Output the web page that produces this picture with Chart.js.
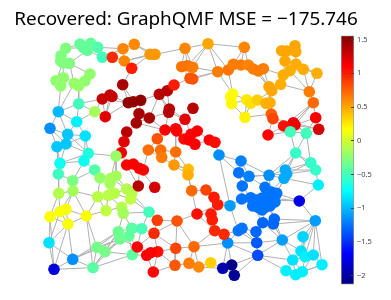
<!DOCTYPE html>
<html>
<head>
<meta charset="utf-8">
<script src="https://cdn.jsdelivr.net/npm/chart.js@4"></script>
<style>
  html, body { margin: 0; background: #fff; overflow: hidden; }
  canvas { position: absolute; filter: blur(0.4px); }
  #graph { left: 0; top: 0; }
  #colorbar { left: 335px; top: 25px; }
</style>
</head>
<body>
<canvas id="graph" width="372" height="300"></canvas>
<canvas id="colorbar" width="56" height="270"></canvas>
<script>
const titleText = "Recovered: GraphQMF MSE = \u2212175.746";

// graph vertices
const nodeX = [65.7,80,90.7,97.7,83.3,87.3,102.3,61,60.7,69.3,63,56,63.3,60.7,90,85,74.3,78.7,78.7,58.3,94.7,76.7,50,67.7,85.3,66,57,88.3,
  112.3,123,134.3,124.3,150,155,131.7,122.7,102.3,110,112,105.3,128.3,133.3,140.7,139,149.3,136.3,126.7,124,121.3,159.3,167.3,174,169.3,168.7,185,165,175.7,176.7,184,157.3,148.3,160.7,175.7,185,181.7,187.3,192.7,190,192.7,193,
  208,244.3,217.7,228.3,233.3,241,248.3,253.3,258.3,263.3,281.7,286.7,295,295.7,285,296,303.3,290,283.3,317,280.7,269,271.7,309.3,313.3,232.7,230.7,231.7,246.7,250.7,257.3,266,270,245,271.3,273,315.7,318.7,293.3,295,283.7,268,290.3,306.3,295.7,197.3,191,189,195,209.3,215,
  219,241,238.7,249,269,285.3,286.7,284,310.7,315.7,318.3,242.3,265,241.7,250.7,252.7,258.3,263.3,265,268.3,270.7,276.7,273.3,270,230,299.3,315.3,274.3,273.3,262.7,242,238.3,256,256.7,282.3,227.7,257.7,231.7,222.7,234.3,303,301,305,313.3,322,292.7,286,295.7,302.3,
  188.3,188,191.7,206,214,217.7,197,211,212.3,214.7,224,194,189,198.7,210.7,
  60,58.3,84,94.7,72.7,116,100,111,116,110,58.7,73,97.7,108.3,114.3,126.7,131.7,130.7,106,121.7,123.3,50,60,66,68,86.3,149,49,72.7,54,93,97,105,118.3,120,129,131.7,141.7,132.3,137.3,154,157.3,177,175.7,157.7,150.7,146.7,175,153.3,126.7,133.3,139.3,143.3,138.3,154.7,161.7,174,
  256,262,268,275,262];
const nodeY = [48.3,44,43.3,47.3,47.7,50.3,57.3,55.7,61,63.3,63,80.7,77.7,86,74,81,83.3,86,103.7,111.7,111.7,121.7,128.3,134.3,136,144,146.7,153.3,
  57.3,48.7,44.3,61,54.3,54.3,68.3,84.7,99,95,96.5,116.7,102.7,101.7,100.3,113.7,118,123,132,141.7,152.7,94.3,90.7,85,109,112.3,119.3,130,128.7,131,139,138.7,150,150,152,48.3,66.7,65.7,67.3,78.3,79,108.3,
  43.7,47.3,71.7,70,64.3,65,65,69,71,68.7,50.7,51,45.7,51.7,61,64,69.3,70.7,75,73.3,84.3,86.7,90.7,91.7,102.7,94,96.7,103.7,99.7,103.3,100,103.3,102.7,117.3,114,118.7,117.7,129.3,122.7,125,126,135,131.7,133.3,153,131,134.3,140,144.3,140,142.3,
  155,161,172.7,176.3,175.3,170,174,178.3,162.7,170,185,186,187.3,199,197.7,206,207.3,203.3,207.3,200,191.7,193.3,198.3,206,205.7,201,220.7,219,224,222.7,228.3,230.7,231.7,242.7,240,243,255.3,265,268.3,275.3,236.7,251,256.7,255,264.7,260,270.7,274.7,271.7,
  169.3,175,190.7,190,197.3,204.7,214,214,220,230.7,234.3,246.7,263.3,267,262.7,
  163.3,174,161,170,180.7,156,178,178.3,176,183.3,193.3,191,196.7,195.3,193.3,189,193.3,199,210.7,207.3,213.3,216.7,211.7,209.3,224,216,212,242.7,259.3,269.3,267.7,247.3,251.7,231.7,239,236,228.3,228.7,254.7,247,233.3,220.3,221,248.3,251.7,252.7,255.3,265.3,272,165,164,168.3,170,186,187.3,157.3,165,
  200,198,194,202,210];
const nodeValues = [-.28,-.38,-.38,-.45,-.38,-.38,-.5,-.28,-.28,-.28,-.28,-.22,-.22,-.22,-.22,-.22,-.2,-.2,-.5,-1,-.15,-.8,-1.15,-.95,-.85,-.95,-.95,-.62,
  .95,.62,.6,.62,.55,.55,1,1.4,1.3,1.35,1.3,1.2,1.5,1.5,1.5,1.42,1.42,1.42,1.35,1.2,1.15,1.35,1.35,1,1.35,1.35,1.2,1.1,1.1,1.1,1.05,.8,.7,.7,.7,.62,.68,.68,.65,.8,.8,1.35,
  .5,.62,.65,.68,.65,.65,.62,.65,.65,.65,.5,.5,.5,.5,.5,.48,.47,.47,.47,.47,.47,.5,.5,.65,.72,.18,.18,.2,.25,.28,.35,.45,.47,.22,.75,.85,1.1,1.25,1.15,1.15,1.05,1.1,-.5,-.5,-.55,1.1,1.1,1.1,1.1,1.1,1.05,
  -1.15,-1.2,-1.25,-1.2,-1.15,-1.05,-1.05,-1.05,-.55,-.55,-.8,-1.25,-1.25,-1.25,-1.25,-1.25,-1.25,-1.25,-1.25,-1.25,-1.25,-1.25,-1.25,-1.25,-1.1,-1.75,-1.1,-1.3,-1.3,-1.3,-1.25,-1.25,-1.3,-1.35,-1.1,-1.15,-1.4,-2.1,-1.95,-2.05,-.9,-.85,-.8,-.85,-.8,-.85,-.8,-.8,-.8,
  .42,.47,.72,.85,1,1,1.05,1,1,.95,.95,.72,.65,.6,.35,
  -.7,-.52,-.7,-.45,-.3,-.2,-.2,-.15,-.15,-.15,-.1,-.15,-.08,-.08,-.08,-.1,-.1,-.05,-.05,-.1,-.15,.18,.15,.15,.15,.15,-.5,-.85,-1.15,-1.8,-.42,-.32,-.32,-.35,-.35,-.38,-.42,-.48,-.4,1.1,.95,.88,.8,.85,1.05,1.1,1.1,.78,1.08,1.1,1.1,1.1,1.1,1.35,1.25,.65,.55,
  -1.25,-1.25,-1.25,-1.25,-1.25];

// graph edges as pairs of vertex numbers
const edges = [[0,1],[0,7],[0,4],[1,2],[1,4],[2,3],[2,5],[3,5],[3,6],[4,5],[5,6],[5,9],[6,29],[3,29],[6,28],[7,8],[8,9],[9,10],[8,10],[9,14],[9,16],[10,11],[10,12],[11,12],[11,13],[12,13],[14,15],[15,17],[16,17],[17,18],[13,19],[16,19],[18,19],[18,20],[18,21],[20,21],[19,21],[19,22],[19,23],[21,23],[21,24],[22,23],[22,25],[22,26],[23,24],[23,25],[24,25],[25,26],[18,36],[20,36],[20,39],[24,27],[23,27],[25,27],[26,185],[25,185],[26,186],[27,187],[24,187],
  [29,30],[29,31],[30,33],[31,32],[31,34],[31,33],[28,31],[32,33],[30,32],[33,63],[34,35],[32,34],[35,40],[35,41],[36,37],[37,38],[36,40],[38,40],[36,39],[37,39],[38,39],[39,40],[40,41],[41,42],[41,43],[42,43],[42,49],[43,44],[43,45],[44,45],[45,46],[46,47],[47,48],[46,48],[49,50],[50,51],[49,52],[50,52],[49,53],[52,53],[51,67],[52,54],[53,54],[53,55],[44,55],[44,53],[44,49],[45,55],[55,56],[55,57],[56,57],[55,59],[57,58],[59,60],[59,61],[60,61],[61,62],[56,62],[58,115],[54,56],[54,69],[54,116],[63,64],[63,65],[63,70],[64,65],[65,66],[64,67],[65,67],[66,68],[66,72],[66,70],[65,70],[67,68],[68,72],[63,66],[67,72],
  [70,71],[70,72],[70,73],[71,74],[71,75],[71,76],[72,73],[73,74],[74,75],[75,76],[76,77],[77,78],[78,79],[73,95],[72,95],[78,91],[79,91],[77,91],[79,88],[80,81],[81,82],[82,83],[81,83],[80,84],[81,84],[83,85],[84,85],[84,87],[85,86],[85,87],[86,87],[87,88],[88,90],[84,88],[86,89],[85,89],[86,93],[87,93],[89,93],[90,91],[90,92],[91,92],[90,93],[93,94],[92,101],[92,102],[91,102],[92,100],[95,96],[96,97],[95,98],[97,98],[97,103],[98,99],[99,100],[100,101],[101,102],[99,103],[98,103],[103,104],[102,104],[101,104],[104,105],[102,105],[105,110],[105,111],[105,108],[94,106],[94,110],[94,108],[106,107],[106,109],[107,108],[107,109],[107,113],[108,109],[108,110],[109,110],[110,111],[110,112],[109,112],[111,112],[112,113],[106,113],[112,114],[113,114],[108,113],[94,109],[109,113],
  [115,116],[116,117],[117,118],[116,118],[115,119],[115,118],[118,119],[119,120],[120,121],[121,122],[121,123],[121,145],[58,117],[62,241],[241,170],[62,170],[240,241],[240,61],[60,240],[60,237],[236,239],[236,238],[234,235],[235,236],[236,237],[234,238],[238,200],[48,234],[48,190],[190,193],[47,190],[190,192],[191,192],[191,193],[192,193],[192,194],[193,194],[191,194],[194,198],[194,199],[193,200],[192,200],[200,201],[201,202],[200,202],[199,200],[199,202],[198,199],[197,198],[197,191],[191,188],[188,187],[187,189],[188,189],[189,196],[185,186],[185,187],[185,27],[186,189],[186,195],[195,196],[196,197],[196,210],[197,210],[197,203],[198,203],[203,204],[204,205],[202,204],[204,198],[203,210],[205,211],[202,211],[201,211],[195,206],[195,207],[196,207],[196,208],[206,207],[207,208],[208,209],[207,209],[208,210],[209,210],[206,209],[206,212],[207,212],[209,212],[206,214],[212,214],[209,213],[209,214],[212,213],[213,214],[213,215],[214,215],[210,216],[210,215],[216,217],[215,216],[215,217],[213,216],[216,218],[216,219],[217,218],[217,219],[217,223],[215,223],[205,218],[205,221],[218,219],[218,221],[219,220],[220,221],[221,222],[220,222],[211,222],[211,226],[220,223],[220,224],[219,224],[222,225],[222,224],[223,224],[223,231],[224,231],[224,230],[224,225],[225,226],[226,227],[225,229],[225,227],[225,228],[229,230],[230,231],[229,233],[231,233],[229,228],[229,232],[228,232],[228,227],[232,233],[232,182],[227,176],[227,181],[228,181],[181,182],[181,183],[182,183],[183,184],[184,159],[181,156],[183,159],[180,156],[179,180],[179,181],[176,179],[176,177],[177,178],[176,172],[172,173],[173,174],[174,175],[175,177],[174,177],[175,176],[172,171],[170,171],[170,241],[171,241],[171,172],[175,145],[174,145],[145,134],[145,152],[180,152],[156,152],[151,152],[151,153],[152,154],[151,154],[153,154],[156,158],[156,159],[156,154],[156,157],[157,158],[157,160],[158,159],[158,160],[159,160],[157,154],[157,155],[154,155],[155,150],[155,148],[148,149],[149,150],[150,153],[148,150],[148,147],[149,147],[149,155],[146,143],[146,142],[146,147],[131,146],[131,130],[131,128],[130,129],[130,127],[130,126],[129,127],[129,126],[129,114],[114,126],[114,130],[113,129],[114,125],[114,128],[125,126],[125,128],[125,124],[125,133],[124,127],[122,123],[122,125],[122,124],[123,124],[123,132],[124,132],[124,133],[132,134],[132,135],[134,135],[135,136],[136,137],[137,138],[138,139],[139,140],[140,141],[141,142],[142,143],[143,144],[144,139],[133,141],[133,142],[128,141],[128,142],[127,142],[125,141],[134,136],[136,150],[139,150],[144,148],[144,149],[140,143],[140,146],[147,161],[147,162],[147,163],[147,164],[147,165],[161,162],[161,163],[155,166],[155,162],[155,147],[162,163],[163,164],[162,166],[163,166],[164,165],[163,169],[164,169],[165,169],[166,167],[166,168],[167,168],[168,169],[165,168],[166,169],[157,166],[157,167],[213,219],[215,218],[213,218],[215,219],[217,220],[27,190]];

// colorbar
const barMin = -2.13;
const barMax = 1.56;
const tickValues = [-2, -1.5, -1, -0.5, 0, 0.5, 1, 1.5];
const jetStops = [0, 0.11, 0.125, 0.375, 0.625, 0.875, 1];
const jetColors = [[0,0,127],[0,0,240],[0,0,255],[0,255,255],[255,255,0],[255,0,0],[127,0,0]];

const jet = function (v) {
  const t = Math.min(1, Math.max(0, (v - barMin) / (barMax - barMin)));
  let i = 0;
  while (i < jetStops.length - 2 && t > jetStops[i + 1]) i++;
  const f = (t - jetStops[i]) / (jetStops[i + 1] - jetStops[i]);
  const c = jetColors[i].map((a, k) => Math.round(a + (jetColors[i + 1][k] - a) * f));
  return `rgb(${c[0]},${c[1]},${c[2]})`;
};

const nodePoints = nodeX.map((x, i) => ({ x: x, y: nodeY[i] }));
const edgePoints = [];
edges.forEach(function (e) {
  edgePoints.push(nodePoints[e[0]], nodePoints[e[1]], { x: null, y: null });
});

new Chart(document.getElementById("graph"), {
  type: "scatter",
  data: {
    datasets: [
      {
        data: nodePoints,
        pointRadius: 5.8,
        pointBorderWidth: 0,
        pointBackgroundColor: nodeValues.map(jet),
        order: 1,
      },
      {
        data: edgePoints,
        showLine: true,
        spanGaps: false,
        pointRadius: 0,
        borderColor: "#b0b0b0",
        borderWidth: 1,
        order: 2,
      },
    ],
  },
  options: {
    responsive: false,
    animation: false,
    layout: { padding: 0, autoPadding: false },
    scales: {
      x: { display: false, min: 0, max: 372 },
      y: { display: false, min: 32, max: 300, reverse: true },
    },
    plugins: {
      legend: { display: false },
      tooltip: { enabled: false },
      title: {
        display: true,
        text: titleText,
        fullSize: false,
        color: "#000",
        font: { family: "Noto Sans", size: 18.9, weight: "normal", lineHeight: "24px" },
        padding: { top: 8, bottom: 0 },
      },
    },
  },
});

new Chart(document.getElementById("colorbar"), {
  type: "bar",
  data: {
    labels: ["value"],
    datasets: [
      {
        data: [[barMin, barMax]],
        barPercentage: 1,
        categoryPercentage: 1,
        borderWidth: 1,
        borderColor: "#999999",
        borderSkipped: false,
        backgroundColor: function (ctx) {
          const area = ctx.chart.chartArea;
          if (!area) return "#fff";
          const g = ctx.chart.ctx.createLinearGradient(0, area.bottom, 0, area.top);
          jetStops.forEach((s, i) => g.addColorStop(s, `rgb(${jetColors[i].join(",")})`));
          return g;
        },
      },
    ],
  },
  options: {
    responsive: false,
    animation: false,
    layout: { padding: { left: 6, top: 8, bottom: 8, right: 0 } },
    scales: {
      x: { display: false },
      y: {
        position: "right",
        min: barMin,
        max: barMax,
        afterBuildTicks: function (scale) {
          scale.ticks = tickValues.map((v) => ({ value: v }));
        },
        afterFit: function (scale) {
          scale.width = 37;
        },
        grid: { drawOnChartArea: false, tickLength: -3, tickColor: "#444", z: 1 },
        border: { display: false },
        ticks: {
          autoSkip: false,
          maxRotation: 0,
          padding: 6,
          color: "#444",
          font: { family: "Noto Sans", size: 7.5 },
          callback: (v) => String(v).replace("-", "\u2212"),
        },
      },
    },
    plugins: {
      legend: { display: false },
      tooltip: { enabled: false },
    },
  },
});
</script>
</body>
</html>
